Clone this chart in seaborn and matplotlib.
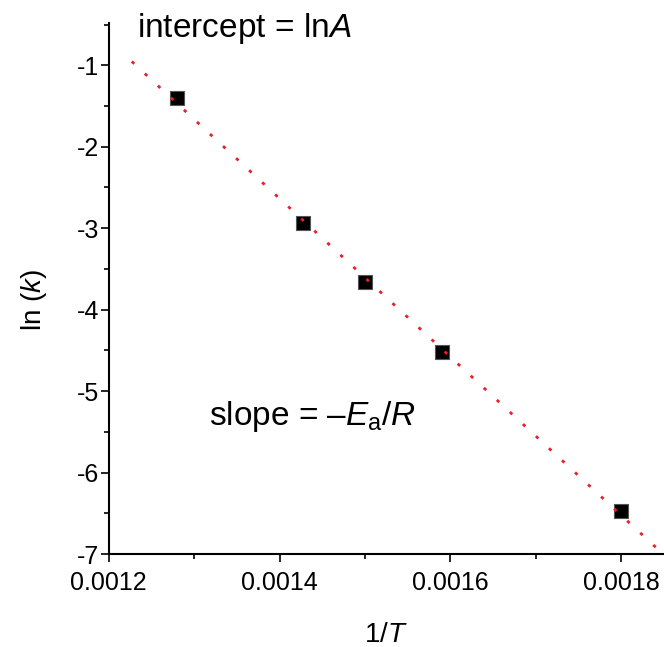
import numpy as np
import pandas as pd
import matplotlib
matplotlib.use("Agg")
import matplotlib.pyplot as plt
import seaborn as sns
from matplotlib.ticker import MultipleLocator, FormatStrFormatter

# ---- data ----
inv_T = [0.00128, 0.001428, 0.00150, 0.00159, 0.00180]
ln_k = [-1.40, -2.935, -3.666, -4.52, -6.47]
x_ticks = [0.0012, 0.0014, 0.0016, 0.0018]
y_ticks = [-7, -6, -5, -4, -3, -2, -1]
fit_range = [0.001227, 0.00185]

sns.set_theme(style="ticks")
plt.rcParams["font.family"] = ["Liberation Sans", "DejaVu Sans"]
plt.rcParams["mathtext.fontset"] = "custom"
plt.rcParams["mathtext.rm"] = "Liberation Sans"
plt.rcParams["mathtext.it"] = "Liberation Sans:italic"
plt.rcParams["mathtext.bf"] = "Liberation Sans:bold"
plt.rcParams["axes.unicode_minus"] = False

fig = plt.figure(figsize=(6.64, 6.47), dpi=100)
ax = fig.add_axes([0.1637, 0.1437, 1 - 0.1637, 0.8208])

df = pd.DataFrame({"invT": inv_T, "lnk": ln_k})
slope, intercept = np.polyfit(df["invT"], df["lnk"], 1)
fx = np.array(fit_range)
fit_df = pd.DataFrame({"x": fx, "y": slope * fx + intercept})

sns.scatterplot(data=df, x="invT", y="lnk", marker="s", s=105, color="black",
                edgecolor="#555555", linewidth=0.8, ax=ax, zorder=3)
sns.lineplot(data=fit_df, x="x", y="y", color="#e8202a", linewidth=2.0,
             linestyle=(0, (1.2, 5.2)), ax=ax, zorder=4)

ax.set_xlim(0.0012, 0.00185)
ax.set_ylim(-7, -0.48)
ax.set_xticks(x_ticks)
ax.set_yticks(y_ticks)
ax.xaxis.set_minor_locator(MultipleLocator(0.0001))
ax.yaxis.set_minor_locator(MultipleLocator(0.5))
ax.xaxis.set_major_formatter(FormatStrFormatter("%.4f"))
ax.yaxis.set_major_formatter(FormatStrFormatter("%d"))

for s in ["top", "right"]:
    ax.spines[s].set_visible(False)
for s in ["left", "bottom"]:
    ax.spines[s].set_linewidth(1.5)
    ax.spines[s].set_color("black")

ax.tick_params(axis="both", which="major", direction="out", length=6, width=1.2,
               labelsize=18, colors="black")
ax.tick_params(axis="both", which="minor", direction="out", length=3.5, width=1.2,
               colors="black")
ax.tick_params(axis="x", which="major", pad=6.5)
ax.tick_params(axis="y", which="major", pad=1)

ax.set_xlabel("1/$T$", fontsize=20, color="black")
ax.set_ylabel("ln ($k$)", fontsize=20, color="black")
ax.xaxis.set_label_coords(0.5, -0.128)
ax.yaxis.set_label_coords(-0.108, 0.478)

fig.text(0.2063, 1 - 37 / 647, "intercept = ln$A$", fontsize=24,
         ha="left", va="baseline", color="black")
fig.text(0.3148, 1 - 425 / 647, "slope = \u2013$E_{\\mathrm{a}}/R$", fontsize=24,
         ha="left", va="baseline", color="black")

fig.savefig("out.png", dpi=100)
